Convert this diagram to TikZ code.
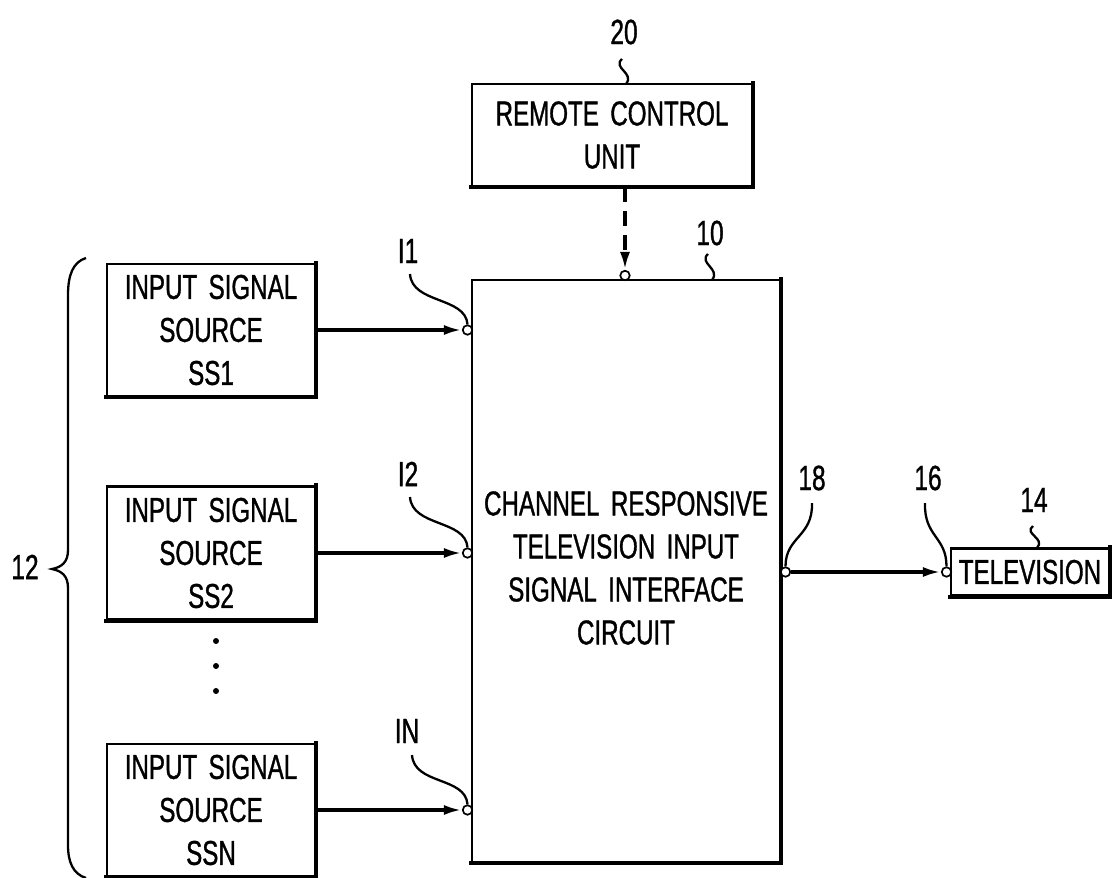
\documentclass[tikz,border=0pt]{standalone}
\usepackage{fontspec}
\setmainfont{Liberation Sans}[FakeStretch=0.7, WordSpace=1.7, FakeBold=1]
\usetikzlibrary{arrows.meta}

\begin{document}
\begin{tikzpicture}[x=1pt, y=-1pt,
  blk/.style={draw, line width=2.4pt, align=center, inner sep=0pt,
    font=\fontsize{34.5}{43}\selectfont},
  heavyedge/.style={line width=3.8pt, line cap=rect},
  port/.style={circle, draw, line width=1.7pt, fill=white, inner sep=0pt, minimum size=9.5pt},
  sig/.style={line width=3.4pt, -{Latex[length=18pt, width=10pt]}},
  lead/.style={line width=2.3pt},
  lbl/.style={inner sep=0pt, font=\fontsize{35}{37}\selectfont},
  dot/.style={circle, fill, inner sep=0pt, minimum size=6pt}
]
\useasboundingbox (0,0) rectangle (1112,878);

% blocks
\node[blk, minimum width=280pt, minimum height=102pt] (rcu) at (612,135) {REMOTE CONTROL\\UNIT};
\node[blk, minimum width=308pt, minimum height=582pt] (main) at (626,571) {};
\node[blk, draw=none] (maintext) at (626,568)
  {CHANNEL RESPONSIVE\\TELEVISION INPUT\\SIGNAL INTERFACE\\CIRCUIT};
\node[blk, minimum width=208pt, minimum height=132pt] (ss1) at (211,330) {INPUT SIGNAL\\SOURCE\\SS1};
\node[blk, minimum width=208pt, minimum height=133pt] (ss2) at (211,553) {INPUT SIGNAL\\SOURCE\\SS2};
\node[blk, minimum width=208pt, minimum height=132pt] (ssn) at (211,810) {INPUT SIGNAL\\SOURCE\\SSN};
\node[blk, minimum width=158pt, minimum height=47pt] (tv) at (1030,572) {TELEVISION};

% heavier right and bottom edges
\foreach \n in {rcu,main,ss1,ss2,ssn,tv}
  \draw[heavyedge] (\n.north east) -- (\n.south east) -- (\n.south west);

% terminals
\node[port] (ptop) at (625,275.5) {};
\node[port] (p1) at (467.5,330) {};
\node[port] (p2) at (467.5,553) {};
\node[port] (pn) at (467.5,810) {};
\node[port] (p18) at (785.5,572) {};
\node[port] (p16) at (946.5,572) {};

% signal paths
\draw[sig, dash pattern=on 15pt off 9pt] (ptop |- rcu.south) -- (ptop);
\draw[sig] (ss1) -- (p1);
\draw[sig] (ss2) -- (p2);
\draw[sig] (ssn) -- (pn);
\draw[sig] (p18) -- (p16);

% continuation dots
\node[dot] (d1) at (216,641) {};
\node[dot] (d2) at (216,666) {};
\node[dot] (d3) at (216,691) {};

% reference labels
\node[lbl] (l20) at (624,32) {20};
\node[lbl] (l10) at (710,233) {10};
\node[lbl] (l14) at (1034,500) {14};
\node[lbl] (l18) at (812,478) {18};
\node[lbl] (l16) at (928,478) {16};
\node[lbl] (l12) at (25,567) {12};
\node[lbl] (li1) at (408,251) {I1};
\node[lbl] (li2) at (408,474) {I2};
\node[lbl] (lin) at (407,731) {IN};

% squiggle leaders to block edges
\coordinate (s20) at (622,59);
\coordinate (t20) at (626,84);
\coordinate (s10) at (708,254);
\coordinate (t10) at (712,280);
\coordinate (s14) at (1033,526);
\coordinate (t14) at (1037,548);
\draw[lead] (s20) .. controls +(-10,9) and +(9,-11) .. (t20);
\draw[lead] (s10) .. controls +(-10,9) and +(9,-11) .. (t10);
\draw[lead] (s14) .. controls +(-10,8) and +(9,-10) .. (t14);

% curved leaders to terminals
\coordinate (s1) at (410,274);
\coordinate (s2) at (410,497);
\coordinate (sn) at (412,755);
\coordinate (s18) at (812,503);
\coordinate (s16) at (925,503);
\draw[lead] (s1) .. controls +(2,30) and +(-2,-28) .. (p1.north);
\draw[lead] (s2) .. controls +(2,30) and +(-2,-28) .. (p2.north);
\draw[lead] (sn) .. controls +(2,30) and +(-2,-28) .. (pn.north);
\draw[lead] (s18) .. controls +(1,34) and +(0,-30) .. (p18.north);
\draw[lead] (s16) .. controls +(-1,34) and +(0,-30) .. (p16.north);

% brace gathering the sources
\draw[lead] (86,258) .. controls (73,262) and (68,275) .. (68,295) -- (68,550)
  .. controls (68,562) and (62,567) .. (52,569)
  .. controls (62,571) and (68,576) .. (68,588) -- (68,845)
  .. controls (68,862) and (73,874) .. (86,878);
\end{tikzpicture}
\end{document}
